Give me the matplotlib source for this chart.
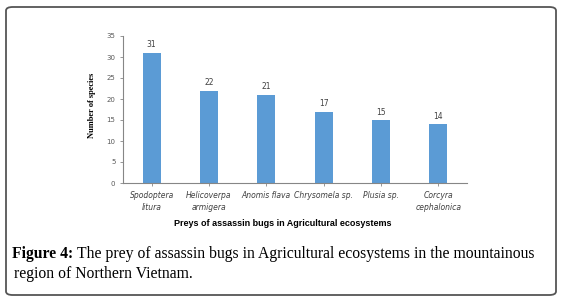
import matplotlib.pyplot as plt
from matplotlib.patches import FancyBboxPatch

# Data
preys = ['Spodoptera\nlitura', 'Helicoverpa\narmigera', 'Anomis flava',
         'Chrysomela sp.', 'Plusia sp.', 'Corcyra\ncephalonica']
species = [31, 22, 21, 17, 15, 14]
yticks = [0, 5, 10, 15, 20, 25, 30, 35]

W, H = 561, 302
fig = plt.figure(figsize=(W / 100, H / 100), dpi=100)

# rounded frame around the figure
frame = FancyBboxPatch((6 / W, 7 / H), 550 / W, 288 / H,
                       boxstyle='round,pad=0,rounding_size=0.012',
                       transform=fig.transFigure, fill=False,
                       edgecolor='#555555', linewidth=1.3)
fig.patches.append(frame)

ax = fig.add_axes([123 / W, 1 - 183 / H, 344 / W, 147 / H])
x = range(len(preys))
bars = ax.bar(x, species, width=0.31, color='#5B9BD5')
for b, v in zip(bars, species):
    ax.text(b.get_x() + b.get_width() / 2, v + 0.8, str(v), ha='center',
            va='bottom', fontsize=5.5, color='#404040')

ax.set_xlim(-0.5, len(preys) - 0.5)
ax.set_ylim(0, 35)
ax.set_yticks(yticks)
ax.set_yticklabels([str(t) for t in yticks], fontsize=5, color='#595959')
ax.set_xticks(list(x))
ax.set_xticklabels(preys, fontsize=5.5, style='italic', color='#404040',
                   linespacing=1.5)
ax.tick_params(axis='both', length=2.5, width=0.6, color='#868686')
ax.tick_params(axis='y', pad=3)
ax.tick_params(axis='x', pad=3)
for s in ['top', 'right']:
    ax.spines[s].set_visible(False)
for s in ['left', 'bottom']:
    ax.spines[s].set_color('#868686')
    ax.spines[s].set_linewidth(0.8)

fig.text(92 / W, 1 - 105 / H, 'Number of species', rotation=90,
         ha='center', va='center', fontsize=6, fontweight='bold',
         family='Liberation Serif')
fig.text(283 / W, 1 - 224 / H, 'Preys of assassin bugs in Agricultural ecosystems',
         ha='center', va='center', fontsize=6.5, fontweight='bold',
         family='Liberation Sans')

# caption: bold label, then plain text right after it
lab = fig.text(12 / W, 1 - 254 / H, 'Figure 4:', ha='left', va='center',
               fontsize=11.3, fontweight='bold', family='Liberation Serif')
fig.canvas.draw()
bb = lab.get_window_extent(renderer=fig.canvas.get_renderer())
fig.text((bb.x1 + 4) / W, 1 - 254 / H,
         'The prey of assassin bugs in Agricultural ecosystems in the mountainous',
         ha='left', va='center', fontsize=11.3, family='Liberation Serif')
fig.text(14 / W, 1 - 274 / H, 'region of Northern Vietnam.', ha='left',
         va='center', fontsize=11.3, family='Liberation Serif')

fig.savefig('out.png', dpi=100)
